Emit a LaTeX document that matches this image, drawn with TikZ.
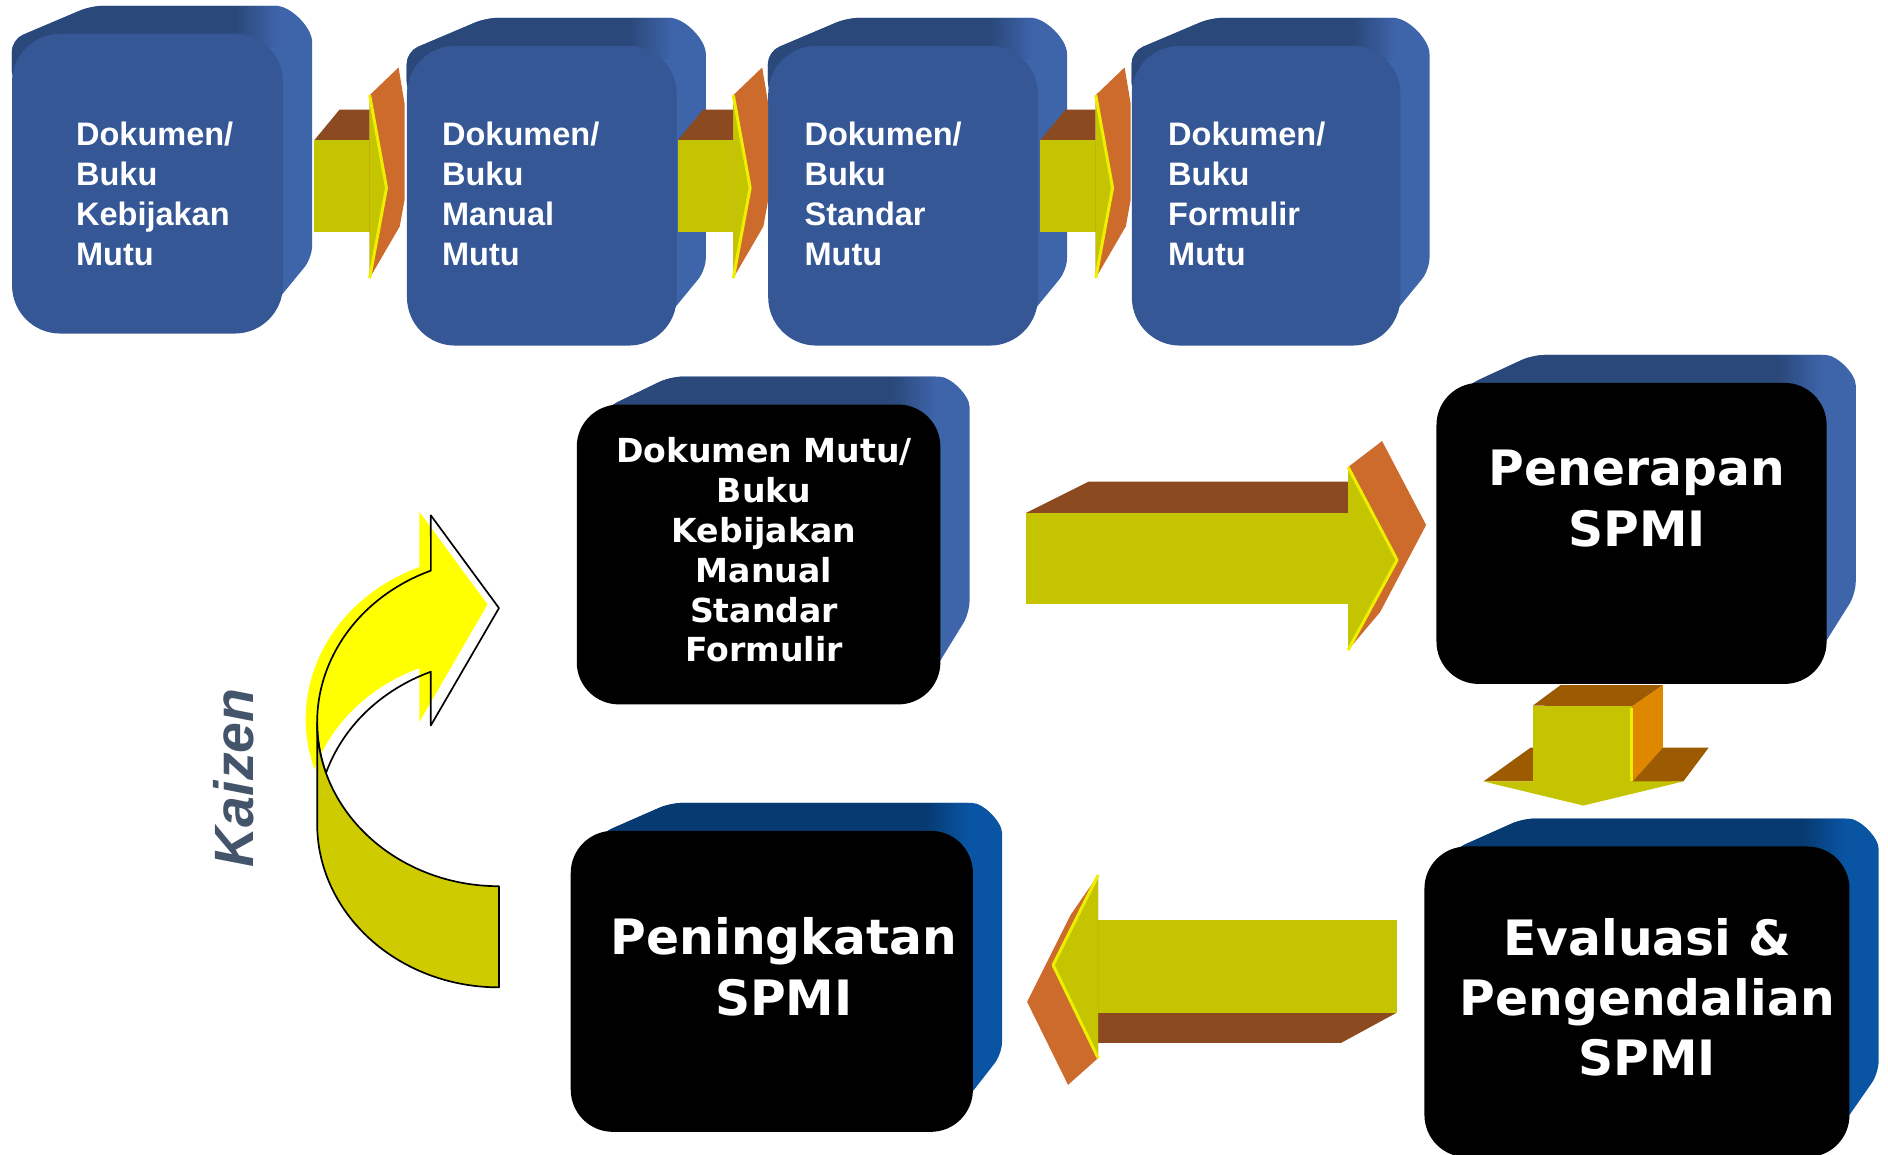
\documentclass[tikz,border=0pt]{standalone}
\usepackage{fontspec}
\setmainfont{Liberation Sans}
\newfontfamily\verdana{DejaVu Sans}
\usetikzlibrary{backgrounds, calc}

\definecolor{blueface}{RGB}{53,87,149}
\definecolor{bluetop}{RGB}{42,72,122}
\definecolor{blueside}{RGB}{62,100,170}
\definecolor{navytop}{RGB}{6,58,112}
\definecolor{navyside}{RGB}{10,84,164}
\definecolor{shaft}{RGB}{196,196,0}
\definecolor{shaftlit}{RGB}{238,238,0}
\definecolor{shafttop}{RGB}{139,74,31}
\definecolor{headside}{RGB}{204,107,44}
\definecolor{dshafttop}{RGB}{156,91,0}
\definecolor{dheadside}{RGB}{224,135,0}
\definecolor{kaizenlit}{RGB}{255,255,0}
\definecolor{kaizenband}{RGB}{206,204,0}
\definecolor{kaizentext}{RGB}{68,84,106}

% back of a 3D slab: node, top colour, side colour, diagonal reach, side drop, corner radius, diagonal start
\newcommand{\slabback}[7]{%
  \begin{scope}
    \clip[rounded corners=10pt] ($(#1.north west)+(0,#6)$) -- ($(#1.north west)+(#7)$) -- ($(#1.north west)+(#4,-23)$)
      -- ($(#1.north east)+(24-#6,-23)$) arc[start angle=-90, end angle=0, radius=#6]
      -- ($(#1.south east)+(24,-#5)$) -- ($(#1.south east)+(-8,-24)$) -- cycle;
    \fill[#3] ($(#1.north west)+(-5,-30)$) rectangle ($(#1.south east)+(30,0)$);
    \fill[#2] ($(#1.north west)+(-5,-30)$) rectangle ($(#1.north east)+(-40,45)$);
    \shade[left color=#2, right color=#3] ($(#1.north east)+(-40,-30)$) rectangle ($(#1.north east)+(-4,12)$);
  \end{scope}
}

\begin{document}
\begin{tikzpicture}[x=1pt, y=-1pt]
    % Styles
    \tikzset{
        docbox/.style={rectangle, fill=blueface, rounded corners=40pt, inner sep=0pt},
        stepbox/.style={rectangle, fill=black, rounded corners=35pt, inner sep=0pt},
        doc_text/.style={text=white, align=left, anchor=west, inner sep=0pt, font={\fontsize{27}{33.4}\selectfont\bfseries}},
        small_text/.style={text=white, align=center, inner sep=0pt, font={\verdana\fontsize{27.5}{33.1}\selectfont\bfseries}},
        big_text/.style={text=white, align=center, inner sep=0pt, font={\verdana\fontsize{40.5}{50}\selectfont\bfseries}},
        edge_lit/.style={draw=shaftlit, line width=2.5pt, line join=round},
        loop_line/.style={draw=black, line width=1.4pt, line join=round}
    }

    \useasboundingbox (0,0) rectangle (1568,959);

    % --- Nodes ---

    % Top row: the four quality documents
    \node[docbox, minimum width=225pt, minimum height=249pt] (kebijakan) at (122.5,152.5) {};
    \node[docbox, minimum width=224pt, minimum height=249pt] (manual) at (450,162.5) {};
    \node[docbox, minimum width=224pt, minimum height=249pt] (standar) at (750,162.5) {};
    \node[docbox, minimum width=223pt, minimum height=249pt] (formulir) at (1051.5,162.5) {};

    \node[doc_text] (kebijakan_t) at (63,161) {Dokumen/\\Buku\\Kebijakan\\Mutu};
    \node[doc_text] (manual_t) at (367,161) {Dokumen/\\Buku\\Manual\\Mutu};
    \node[doc_text] (standar_t) at (668,161) {Dokumen/\\Buku\\Standar\\Mutu};
    \node[doc_text] (formulir_t) at (970,161) {Dokumen/\\Buku\\Formulir\\Mutu};

    % Cycle boxes
    \node[stepbox, minimum width=302pt, minimum height=249pt] (dokumen) at (630,460.5) {};
    \node[small_text] (dokumen_t) at (634.5,456.7) {Dokumen Mutu/\\Buku\\Kebijakan\\Manual\\Standar\\Formulir};

    \node[stepbox, minimum width=324pt, minimum height=250pt] (penerapan) at (1355,443) {};
    \node[big_text] (penerapan_t) at (1359.5,414) {Penerapan\\SPMI};

    \node[stepbox, minimum width=353pt, minimum height=258pt] (evaluasi) at (1359.5,832) {};
    \node[big_text] (evaluasi_t) at (1368,828.4) {Evaluasi \&\\Pengendalian\\SPMI};

    \node[stepbox, minimum width=334pt, minimum height=250pt] (peningkatan) at (641,815) {};
    \node[big_text] (peningkatan_t) at (651,803) {Peningkatan\\SPMI};

    \node[rotate=90, text=kaizentext, inner sep=0pt, font={\fontsize{46}{46}\selectfont\bfseries\itshape}] (kaizen) at (194.5,646) {Kaizen};

    % 3D backs of the boxes
    \begin{scope}[on background layer]
        \foreach \n in {kebijakan, manual, standar, formulir} {\slabback{\n}{bluetop}{blueside}{66}{63}{40}{0,5}}
        \slabback{dokumen}{bluetop}{blueside}{78}{76}{35}{26,2}
        \slabback{penerapan}{bluetop}{blueside}{80}{75}{35}{26,2}
        \slabback{evaluasi}{navytop}{navyside}{82}{70}{35}{26,2}
        \slabback{peningkatan}{navytop}{navyside}{83}{65}{35}{26,2}
    \end{scope}

    % --- Connections ---

    % Top row arrows (kebijakan -> manual -> standar -> formulir)
    \foreach \s in {0,302,603} {
        \begin{scope}[shift={(\s,0)}]
            \fill[shafttop] (261,116.5) -- (282,91) -- (307,91) -- (307,116.5) -- cycle;
            \fill[shaft] (261,116.5) rectangle (307,192.5);
            \fill[headside] (307,79) -- (331,56) -- (336,86) -- (336,166) -- (332,188) -- (307,231) -- cycle;
            \fill[shaft] (307,79) -- (321,156) -- (307,231) -- cycle;
            \draw[edge_lit] (307,79) -- (321,156) -- (307,231);
        \end{scope}
    }

    % Dokumen -> Penerapan
    \fill[shafttop] (852,426) -- (904,400) -- (1120,400) -- (1120,426) -- cycle;
    \fill[shaft] (852,426) rectangle (1120,502);
    \fill[headside] (1119.6,387.9) -- (1147.8,366.3) -- (1184.4,436) -- (1146.2,508.3) -- (1119.6,539.9) -- cycle;
    \fill[shaft] (1119.6,387.9) -- (1160.3,465.1) -- (1119.6,539.9) -- cycle;
    \draw[edge_lit] (1119.6,387.9) -- (1160.3,465.1) -- (1119.6,539.9);

    % Penerapan -> Evaluasi
    \fill[dshafttop] (1273,586) -- (1296,569) -- (1381,569) -- (1355,587) -- cycle;
    \fill[dheadside] (1355,587) -- (1381,569) -- (1381,621) -- (1355,650) -- cycle;
    \fill[dshafttop] (1232,649) -- (1271,621) -- (1273,621) -- (1273,649) -- cycle;
    \fill[dshafttop] (1355,650) -- (1381,621) -- (1419,621) -- (1398,649) -- cycle;
    \fill[shaft] (1273,586) rectangle (1355,650);
    \fill[shaft] (1232,649) -- (1398,649) -- (1315,669) -- cycle;
    \draw[edge_lit, line width=2pt] (1355,588) -- (1355,649);

    % Evaluasi -> Peningkatan
    \fill[shafttop] (912,841) -- (1160,841) -- (1114,866) -- (912,866) -- cycle;
    \fill[shaft] (912,764) rectangle (1160,841);
    \fill[headside] (912,726.7) -- (889,760) -- (853,832) -- (887,901) -- (912,878.7) -- cycle;
    \fill[shaft] (912,726.7) -- (874.6,801.5) -- (912,878.7) -- cycle;
    \draw[edge_lit] (912,726.7) -- (874.6,801.5) -- (912,878.7);

    % Kaizen loop: Peningkatan back to Dokumen
    \fill[kaizenlit, shift={(-9.5,-3)}] (263.4,600) arc[start angle=180, end angle=248, x radius=151, y radius=136]
        -- (357.8,428) -- (414.4,505) -- (357.8,602.5) -- (357.8,557.9)
        arc[start angle=248, end angle=198, x radius=151, y radius=136]
        arc[start angle=162, end angle=180, x radius=151, y radius=136] -- cycle;
    \draw[loop_line] (263.4,600) arc[start angle=180, end angle=248, x radius=151, y radius=136]
        -- (357.8,428) -- (414.4,505) -- (357.8,602.5) -- (357.8,557.9)
        arc[start angle=248, end angle=198, x radius=151, y radius=136]
        arc[start angle=162, end angle=180, x radius=151, y radius=136] -- cycle;
    \filldraw[loop_line, fill=kaizenband] (414.4,736) -- (414.4,820)
        arc[start angle=90, end angle=180, x radius=151, y radius=136] -- (263.4,600)
        arc[start angle=180, end angle=90, x radius=151, y radius=136] -- cycle;

\end{tikzpicture}
\end{document}
